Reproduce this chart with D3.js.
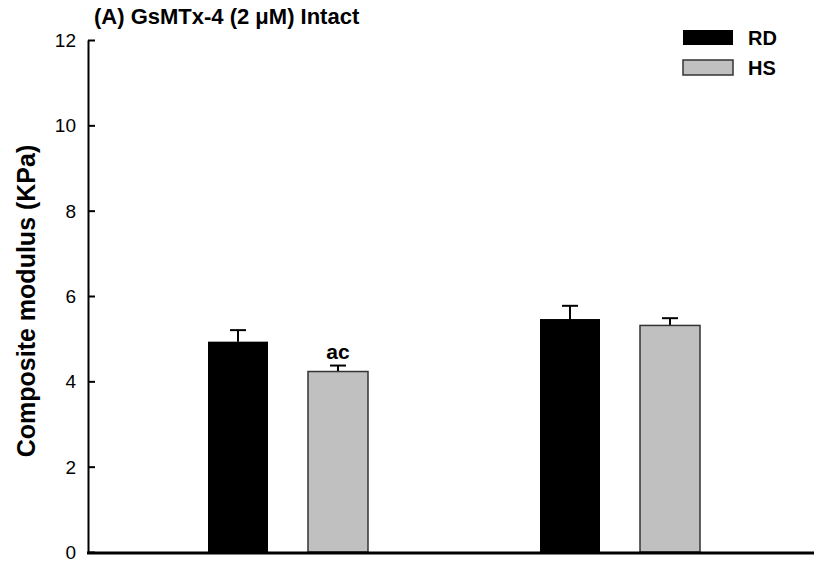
<!DOCTYPE html>
<html>
<head>
<meta charset="utf-8">
<script src="https://cdn.jsdelivr.net/npm/d3@7"></script>
<style>
  html, body { margin: 0; padding: 0; background: #fff; }
  svg text { font-family: Arial, "Liberation Sans", sans-serif; }
</style>
</head>
<body>
<svg id="chart" width="814" height="564"></svg>
<script>
// Composite modulus per group, RD vs HS, mean and SEM
const groups = ["G1", "G2"];
const series = ["RD", "HS"];
const rdValues = [4.93, 5.46];
const rdErrors = [0.27, 0.31];
const hsValues = [4.23, 5.31];
const hsErrors = [0.14, 0.17];
const hsLabels = ["ac", ""];
const yTicks = [0, 2, 4, 6, 8, 10, 12];
const seriesColors = ["#000000", "#c0c0c0"];

const svg = d3.select("#chart");

const y = d3.scaleLinear().domain([0, 12]).range([552, 40]);
const x = d3.scaleBand().domain(groups).range([122, 786]).padding(0);
const xs = d3.scaleBand().domain(series).range([-80, 80]).paddingInner(0.4).paddingOuter(0);

const rows = [];
groups.forEach((g, i) => {
  rows.push({ g, s: "RD", v: rdValues[i], e: rdErrors[i], label: "" });
  rows.push({ g, s: "HS", v: hsValues[i], e: hsErrors[i], label: hsLabels[i] });
});
const color = d3.scaleOrdinal().domain(series).range(seriesColors);
const cx = d => x(d.g) + x.bandwidth() / 2 + xs(d.s);

// error bars (drawn behind bars)
const eb = svg.append("g").attr("stroke", "#000").attr("stroke-width", 2);
rows.forEach(d => {
  const mid = cx(d) + xs.bandwidth() / 2;
  eb.append("line").attr("x1", mid).attr("x2", mid).attr("y1", y(d.v)).attr("y2", y(d.v + d.e));
  eb.append("line").attr("x1", mid - 8).attr("x2", mid + 8).attr("y1", y(d.v + d.e)).attr("y2", y(d.v + d.e));
});

// bars
svg.append("g").selectAll("rect").data(rows).join("rect")
  .attr("x", d => cx(d))
  .attr("y", d => y(d.v))
  .attr("width", xs.bandwidth())
  .attr("height", d => y(0) - y(d.v))
  .attr("fill", d => color(d.s))
  .attr("stroke", d => d.s === "HS" ? "#333" : "none")
  .attr("stroke-width", 1.5);

// significance labels
svg.append("g").selectAll("text").data(rows.filter(d => d.label)).join("text")
  .attr("x", d => cx(d) + xs.bandwidth() / 2)
  .attr("y", d => y(d.v + d.e) - 7)
  .attr("text-anchor", "middle")
  .attr("font-size", 21).attr("font-weight", "bold")
  .text(d => d.label);

// y axis with inward ticks
const yAxis = d3.axisLeft(y).tickValues(yTicks).tickSize(-7).tickPadding(12).tickSizeOuter(0);
const ya = svg.append("g").attr("transform", "translate(88,0)").call(yAxis);
ya.select(".domain").attr("stroke-width", 2);
ya.selectAll(".tick line").attr("stroke-width", 2);
ya.selectAll(".tick text").attr("font-size", 19).attr("fill", "#000").attr("dy", "0.34em");

// x baseline
svg.append("line").attr("x1", 87).attr("x2", 814).attr("y1", y(0) + 1).attr("y2", y(0) + 1)
  .attr("stroke", "#000").attr("stroke-width", 3);

// title
svg.append("text").attr("x", 94).attr("y", 24)
  .attr("font-size", 22).attr("font-weight", "bold")
  .text("(A) GsMTx-4 (2 μM) Intact");

// y axis title
svg.append("text")
  .attr("transform", "translate(35,301) rotate(-90)")
  .attr("text-anchor", "middle")
  .attr("font-size", 25).attr("font-weight", "bold")
  .text("Composite modulus (KPa)");

// legend
const lg = svg.append("g").attr("transform", "translate(683,30)");
series.forEach((s, i) => {
  lg.append("rect").attr("x", 0).attr("y", i * 30).attr("width", 50).attr("height", 15)
    .attr("fill", color(s)).attr("stroke", s === "HS" ? "#333" : "none").attr("stroke-width", 1.5);
  lg.append("text").attr("x", 65).attr("y", i * 30 + 15)
    .attr("font-size", 20).attr("font-weight", "bold").text(s);
});
</script>
</body>
</html>
